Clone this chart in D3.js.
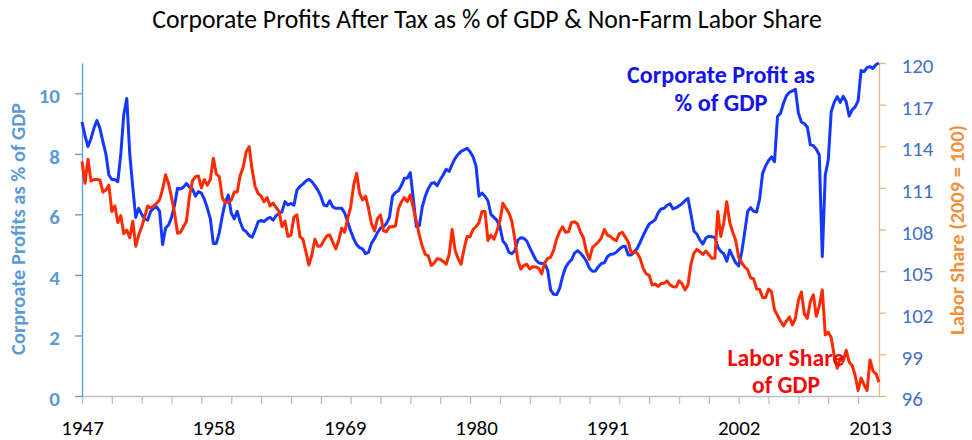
<!DOCTYPE html>
<html><head><meta charset="utf-8">
<script src="https://cdn.jsdelivr.net/npm/d3@7"></script>
<style>body{margin:0;background:#fff}svg{display:block}</style>
</head><body>
<svg id="c" width="972" height="440"></svg>
<script>
// Quarterly data, 1947Q1 .. 2013Q4
const startYear = 1947;
const xLabels = ["1947","1958","1969","1980","1991","2002","2013"];
const leftTicks = [0,2,4,6,8,10];
const rightTicks = [96,99,102,105,108,111,114,117,120];

// Corporate profits after tax as % of GDP (left axis)
const profit = [
 9.05, 8.6, 8.24, 8.5,    // 1947
 8.85, 9.1, 8.85, 8.4,    // 1948
 8.0, 7.3, 7.15, 7.15,    // 1949
 7.08, 8.0, 9.3, 9.83,    // 1950
 8.0, 6.9, 5.9, 6.2,      // 1951
 6.0, 5.85, 5.81, 6.1,    // 1952
 6.2, 6.25, 6.1, 5.0,     // 1953
 5.55, 5.65, 5.9, 6.3,    // 1954
 6.86, 6.84, 6.9, 7.02,   // 1955
 6.9, 6.84, 6.6, 6.75,    // 1956
 6.7, 6.5, 6.2, 5.85,     // 1957
 5.04, 5.04, 5.4, 5.95,   // 1958
 6.4, 6.64, 6.04, 5.85,   // 1959
 6.1, 5.75, 5.5, 5.43,    // 1960
 5.3, 5.25, 5.48, 5.75,   // 1961
 5.8, 5.76, 5.85, 5.9,    // 1962
 5.81, 5.95, 6.03, 6.09,  // 1963
 6.42, 6.31, 6.36, 6.3,   // 1964
 6.8, 6.92, 7.0, 7.1,     // 1965
 7.16, 7.08, 6.95, 6.8,   // 1966
 6.6, 6.31, 6.28, 6.45,   // 1967
 6.25, 6.2, 6.2, 6.2,     // 1968
 6.05, 5.75, 5.45, 5.2,   // 1969
 5.0, 4.9, 4.86, 4.7,     // 1970
 4.75, 5.05, 5.2, 5.4,    // 1971
 5.55, 5.59, 5.7, 5.9,    // 1972
 6.6, 6.72, 6.78, 6.95,   // 1973
 7.19, 7.2, 7.38, 6.5,    // 1974
 5.6, 5.62, 6.25, 6.6,    // 1975
 6.85, 7.02, 7.05, 6.95,  // 1976
 7.15, 7.3, 7.49, 7.42,   // 1977
 7.65, 7.85, 7.98, 8.08,  // 1978
 8.13, 8.18, 8.07, 7.9,   // 1979
 7.6, 6.6, 6.7, 6.6,      // 1980
 6.45, 6.0, 5.9, 5.8,     // 1981
 5.6, 5.12, 5.0, 4.75,    // 1982
 4.7, 4.8, 5.15, 5.23,    // 1983
 5.21, 5.12, 4.9, 4.7,    // 1984
 4.5, 4.4, 4.38, 4.38,    // 1985
 4.16, 3.5, 3.36, 3.35,   // 1986
 3.55, 3.95, 4.25, 4.4,   // 1987
 4.5, 4.72, 4.8, 4.72,    // 1988
 4.6, 4.45, 4.22, 4.12,   // 1989
 4.13, 4.27, 4.38, 4.4,   // 1990
 4.6, 4.68, 4.69, 4.75,   // 1991
 4.85, 4.93, 4.95, 4.66,  // 1992
 4.66, 4.75, 4.88, 5.08,  // 1993
 5.3, 5.5, 5.68, 5.75,    // 1994
 5.82, 6.05, 6.18, 6.2,   // 1995
 6.3, 6.35, 6.18, 6.22,   // 1996
 6.28, 6.35, 6.45, 6.53,  // 1997
 6.0, 5.45, 5.35, 5.15,   // 1998
 5.02, 5.22, 5.28, 5.26,  // 1999
 5.24, 4.92, 4.78, 4.7,   // 2000
 4.45, 4.82, 4.6, 4.4,    // 2001
 4.3, 4.75, 5.4, 6.1,     // 2002
 6.22, 6.1, 6.08, 6.5,    // 2003
 7.35, 7.6, 7.78, 7.9,    // 2004
 7.74, 9.23, 9.34, 9.67,  // 2005
 9.92, 10.03, 10.08, 10.13, // 2006
 9.35, 9.05, 9.0, 8.88,   // 2007
 8.3, 8.27, 8.15, 7.96,   // 2008
 4.6, 7.3, 7.8, 9.4,      // 2009
 9.7, 9.89, 9.7, 9.9,     // 2010
 9.72, 9.25, 9.45, 9.55,  // 2011
 9.75, 10.75, 10.72, 10.85, // 2012
 10.88, 10.82, 10.95, 11.0  // 2013
];

// Non-farm labor share, 2009 = 100 (right axis)
const labor = [
 112.9, 111.33, 113.06, 111.5,  // 1947
 111.6, 111.6, 111.57, 110.7,   // 1948
 110.85, 111.2, 109.3, 109.7,   // 1949
 108.5, 109.0, 107.7, 107.96,   // 1950
 107.4, 108.6, 106.8, 107.6,    // 1951
 108.2, 108.9, 109.7, 109.55,   // 1952
 109.7, 109.89, 110.15, 110.9,  // 1953
 111.95, 111.3, 110.3, 109.2,   // 1954
 107.73, 107.8, 108.2, 108.6,   // 1955
 110.4, 111.5, 111.8, 111.86,   // 1956
 111.0, 111.6, 111.2, 111.6,    // 1957
 113.13, 112.0, 111.8, 110.3,   // 1958
 109.9, 110.0, 110.1, 110.7,    // 1959
 110.7, 111.9, 112.5, 113.6,    // 1960
 113.97, 112.3, 111.1, 110.6,   // 1961
 110.4, 110.0, 110.3, 109.7,    // 1962
 109.9, 109.6, 109.3, 108.2,    // 1963
 108.6, 107.5, 107.6, 108.9,    // 1964
 109.05, 107.48, 107.3, 106.4,  // 1965
 105.44, 106.16, 107.3, 106.8,  // 1966
 106.81, 107.2, 107.53, 107.6,  // 1967
 107.1, 106.6, 107.2, 108.1,    // 1968
 107.8, 108.8, 109.6, 111.2,    // 1969
 112.05, 110.6, 110.13, 110.4,  // 1970
 109.5, 108.4, 107.9, 108.8,    // 1971
 109.05, 107.9, 107.84, 108.2,  // 1972
 108.2, 108.25, 109.5, 110.0,   // 1973
 110.3, 110.0, 110.5, 109.53,   // 1974
 108.6, 107.6, 106.8, 106.2,    // 1975
 106.1, 105.4, 105.6, 105.9,    // 1976
 105.85, 105.7, 105.5, 106.2,   // 1977
 108.0, 106.5, 105.9, 105.5,    // 1978
 106.6, 107.5, 107.48, 108.0,   // 1979
 108.2, 108.5, 109.3, 109.3,    // 1980
 107.2, 107.6, 107.3, 107.9,    // 1981
 108.6, 109.9, 109.53, 109.2,   // 1982
 108.6, 107.3, 105.8, 105.15,   // 1983
 105.4, 105.5, 105.15, 105.32,  // 1984
 105.3, 105.2, 104.8, 105.6,    // 1985
 105.92, 106.0, 106.5, 107.3,   // 1986
 107.85, 108.2, 107.8, 107.84,  // 1987
 108.5, 108.56, 108.4, 107.8,   // 1988
 107.4, 106.4, 105.85, 106.7,   // 1989
 106.9, 107.1, 107.4, 108.0,    // 1990
 107.6, 107.5, 107.3, 107.2,    // 1991
 107.7, 107.8, 107.45, 107.1,   // 1992
 106.3, 106.4, 106.3, 105.9,    // 1993
 105.2, 104.8, 104.7, 104.0,    // 1994
 104.07, 103.9, 104.1, 104.12,  // 1995
 104.3, 104.0, 103.88, 103.85,  // 1996
 104.3, 104.1, 103.65, 104.0,   // 1997
 105.5, 106.3, 106.57, 106.4,   // 1998
 106.2, 106.45, 106.2, 105.92,  // 1999
 105.92, 109.3, 107.5, 108.5,   // 2000
 110.0, 108.5, 107.8, 107.2,    // 2001
 106.0, 105.6, 105.3, 105.1,    // 2002
 104.5, 104.45, 103.7, 103.7,   // 2003
 103.1, 103.1, 103.7, 103.5,    // 2004
 102.2, 101.8, 101.4, 101.05,   // 2005
 101.4, 101.7, 101.12, 101.6,   // 2006
 102.9, 103.5, 101.9, 101.6,    // 2007
 102.8, 103.3, 101.75, 102.5,   // 2008
 103.64, 100.4, 100.6, 100.2,   // 2009
 98.9, 98.0, 98.7, 98.5,        // 2010
 99.3, 98.45, 98.2, 97.5,       // 2011
 96.4, 97.3, 96.8, 96.4,        // 2012
 98.6, 97.8, 97.6, 97.0         // 2013
];

const FONT = "Carlito, Lato, 'Open Sans', sans-serif";
const svg = d3.select("#c");
const n = profit.length;
const x = d3.scaleLinear().domain([0, n - 1]).range([82, 879]);
const yL = d3.scaleLinear().domain([0, 11]).range([396, 63]);
const yR = d3.scaleLinear().domain([96, 120]).range([396, 63]);

function fit(sel, target) {
  const w = sel.node().getComputedTextLength();
  const fs = parseFloat(sel.attr("font-size"));
  if (w > 0) sel.attr("font-size", (fs * target / w).toFixed(2));
}

// Title
fit(svg.append("text").attr("x", 487).attr("y", 28).attr("text-anchor", "middle")
  .attr("font-family", FONT).attr("font-size", 23).attr("fill", "#000")
  .text("Corporate Profits After Tax as % of GDP & Non-Farm Labor Share"), 670);

// X axis: minor ticks every 10 quarters
const gx = svg.append("g").attr("transform", "translate(0,396)")
  .call(d3.axisBottom(x).tickValues(d3.range(0, n, 10)).tickSize(8).tickSizeOuter(0).tickFormat(""));
gx.select(".domain").attr("stroke", "#BFBFBF").attr("stroke-width", 1.3);
gx.selectAll(".tick line").attr("stroke", "#BFBFBF").attr("stroke-width", 1.3);

// X labels
const gxl = svg.append("g").attr("transform", "translate(0,396)")
  .call(d3.axisBottom(x).tickValues(xLabels.map(s => (+s - startYear) * 4))
    .tickSize(0).tickFormat(i => xLabels[i / 44]));
gxl.select(".domain").remove();
gxl.selectAll("text").attr("y", 38.5).attr("dy", 0).attr("fill", "#000")
  .attr("font-family", FONT).attr("font-size", 21);

// Left axis
const gl = svg.append("g").attr("transform", "translate(82,0)")
  .call(d3.axisLeft(yL).tickValues(leftTicks).tickSize(7).tickSizeOuter(0));
gl.select(".domain").attr("stroke", "#5B9BD5").attr("stroke-width", 1.3);
gl.selectAll(".tick line").attr("stroke", "#5B9BD5").attr("stroke-width", 1.3);
gl.selectAll("text").attr("x", -22).attr("y", 2.5).attr("fill", "#5B9BD5")
  .attr("font-family", FONT).attr("font-size", 21).attr("font-weight", "bold");

// Right axis
const gr = svg.append("g").attr("transform", "translate(879,0)")
  .call(d3.axisRight(yR).tickValues(rightTicks).tickSize(7).tickSizeOuter(0));
gr.select(".domain").attr("stroke", "#F4B183").attr("stroke-width", 1.3);
gr.selectAll(".tick line").attr("stroke", "#F4B183").attr("stroke-width", 1.3);
gr.selectAll("text").attr("x", 22.5).attr("y", 3).attr("fill", "#4472C4")
  .attr("font-family", FONT).attr("font-size", 21);

// Axis titles
fit(svg.append("text").attr("transform", "translate(25,229) rotate(-90)")
  .attr("text-anchor", "middle").attr("font-family", FONT).attr("font-size", 16)
  .attr("font-weight", "bold").attr("fill", "#5B9BD5")
  .text("Corproate Profits as % of GDP"), 252);
fit(svg.append("text").attr("transform", "translate(964,230) rotate(-90)")
  .attr("text-anchor", "middle").attr("font-family", FONT).attr("font-size", 16)
  .attr("font-weight", "bold").attr("fill", "#F0913C")
  .text("Labor Share (2009 = 100)"), 210);

// Lines
const lineL = d3.line().x((d, i) => x(i)).y(d => yL(d));
const lineR = d3.line().x((d, i) => x(i)).y(d => yR(d));
svg.append("path").datum(profit).attr("d", lineL).attr("fill", "none")
  .attr("stroke", "#1438FF").attr("stroke-width", 3).attr("stroke-linejoin", "round");
svg.append("path").datum(labor).attr("d", lineR).attr("fill", "none")
  .attr("stroke", "#FF2A00").attr("stroke-width", 3).attr("stroke-linejoin", "round");

// Annotations
const ann = [
  {t: "Corporate Profit as", x: 721, y: 83, w: 188, c: "#1414E8"},
  {t: "% of GDP", x: 721, y: 111, w: 93, c: "#1414E8"},
  {t: "Labor Share", x: 786, y: 366, w: 117, c: "#F50A0A"},
  {t: "of GDP", x: 786, y: 393, w: 68, c: "#F50A0A"}
];
ann.forEach(a => {
  fit(svg.append("text").attr("x", a.x).attr("y", a.y).attr("text-anchor", "middle")
    .attr("font-family", FONT).attr("font-size", 22).attr("font-weight", "bold")
    .attr("fill", a.c).text(a.t), a.w);
});
</script>
</body></html>
